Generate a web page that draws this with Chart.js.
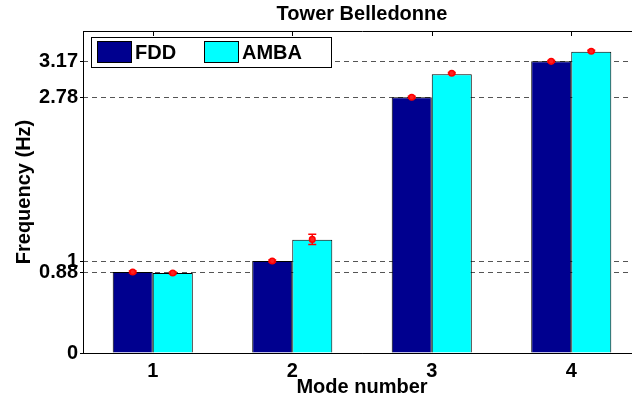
<!DOCTYPE html>
<html>
<head>
<meta charset="utf-8">
<script src="https://cdn.jsdelivr.net/npm/chart.js@4"></script>
<style>
	html, body { margin: 0; padding: 0; background: #ffffff; overflow: hidden; }
	#chart { display: block; }
</style>
</head>
<body>
<canvas id="chart" width="645" height="405"></canvas>
<script>
/* data */

var modes = ['1', '2', '3', '4'];
var fddValues = [0.88, 1.00, 2.78, 3.17];
var ambaValues = [0.87, 1.23, 3.03, 3.275];
var fddMeans = [0.88, 1.00, 2.78, 3.17];
var ambaMeans = [0.87, 1.235, 3.04, 3.28];
var fddErrors = [0.01, 0.01, 0.01, 0.01];
var ambaErrors = [0.01, 0.057, 0.01, 0.01];
var yTicks = [0, 0.88, 1, 2.78, 3.17];
var refLines = [0.88, 1, 2.78, 3.17];

var font = { family: '"Liberation Sans", Arial, Helvetica, sans-serif', size: 20, weight: 'bold' };
var fontString = 'bold 20px "Liberation Sans", Arial, Helvetica, sans-serif';

/* plugin: dashed reference lines, markers, box and legend */

var matlabPlugin = {
	id: 'matlab',
	beforeDatasetsDraw: function(chart) {
		var ctx = chart.ctx;
		var area = chart.chartArea;
		var y = chart.scales.y;
		ctx.save();
		ctx.strokeStyle = '#555555';
		ctx.lineWidth = 1;
		ctx.setLineDash([5, 4]);
		for (var i = 0; i < refLines.length; i++) {
			var py = Math.round(y.getPixelForValue(refLines[i])) + 0.5;
			ctx.beginPath();
			ctx.moveTo(area.left, py);
			ctx.lineTo(area.right, py);
			ctx.stroke();
		}
		ctx.restore();
	},
	afterDatasetsDraw: function(chart) {
		var ctx = chart.ctx;
		var area = chart.chartArea;
		var x = chart.scales.x;
		var y = chart.scales.y;
		var means = [fddMeans, ambaMeans];
		var errors = [fddErrors, ambaErrors];
		ctx.save();

		// error bars and markers
		for (var d = 0; d < means.length; d++) {
			var meta = chart.getDatasetMeta(d);
			for (var j = 0; j < means[d].length; j++) {
				var px = meta.data[j].x;
				var py = y.getPixelForValue(means[d][j]);
				var top = y.getPixelForValue(means[d][j] + errors[d][j]);
				var bottom = y.getPixelForValue(means[d][j] - errors[d][j]);
				ctx.strokeStyle = '#ff0000';
				ctx.lineWidth = 1.5;
				ctx.beginPath();
				ctx.moveTo(px, top);
				ctx.lineTo(px, bottom);
				ctx.moveTo(px - 4, top);
				ctx.lineTo(px + 4, top);
				ctx.moveTo(px - 4, bottom);
				ctx.lineTo(px + 4, bottom);
				ctx.stroke();
				ctx.beginPath();
				ctx.arc(px, py, 2.8, 0, Math.PI * 2);
				ctx.fillStyle = '#ff2020';
				ctx.fill();
				ctx.stroke();
			}
		}

		// axes box
		ctx.strokeStyle = '#000000';
		ctx.lineWidth = 1;
		ctx.beginPath();
		ctx.moveTo(area.left + 0.5, area.bottom + 0.5);
		ctx.lineTo(area.left + 0.5, area.top + 0.5);
		ctx.lineTo(area.right + 0.5, area.top + 0.5);
		ctx.lineTo(area.right + 0.5, area.bottom + 0.5);
		ctx.lineTo(area.left + 0.5, area.bottom + 0.5);
		ctx.stroke();

		// top ticks
		for (var k = 0; k < modes.length; k++) {
			var tx = Math.round(x.getPixelForValue(k)) + 0.5;
			ctx.beginPath();
			ctx.moveTo(tx, area.top);
			ctx.lineTo(tx, area.top + 5);
			ctx.stroke();
		}

		// legend
		var lx = area.left + 8;
		var ly = area.top + 6;
		ctx.fillStyle = '#ffffff';
		ctx.fillRect(lx, ly, 240, 30);
		ctx.strokeRect(lx + 0.5, ly + 0.5, 240, 30);
		ctx.font = fontString;
		ctx.textBaseline = 'middle';
		ctx.textAlign = 'left';
		var offsets = [6, 113];
		for (var n = 0; n < chart.data.datasets.length; n++) {
			var ds = chart.data.datasets[n];
			var sx = lx + offsets[n];
			ctx.fillStyle = ds.backgroundColor;
			ctx.fillRect(sx, ly + 4, 34, 21);
			ctx.strokeStyle = '#000000';
			ctx.strokeRect(sx + 0.5, ly + 4.5, 34, 21);
			ctx.fillStyle = '#000000';
			ctx.fillText(ds.label, sx + 38, ly + 16);
		}
		ctx.restore();
	}
};

/* chart */

var doInit = function() {
	var context = document.getElementById('chart').getContext('2d');
	var payload = {
		type: 'bar',
		data: {
			labels: modes,
			datasets: [
				{ label: 'FDD', data: fddValues, backgroundColor: '#00008f', borderColor: '#000000', borderWidth: 1, categoryPercentage: 0.574, barPercentage: 1 },
				{ label: 'AMBA', data: ambaValues, backgroundColor: '#00ffff', borderColor: '#000000', borderWidth: 1, categoryPercentage: 0.574, barPercentage: 1 }
			]
		},
		options: {
			responsive: false,
			animation: false,
			devicePixelRatio: 1,
			layout: { padding: { right: 4 } },
			plugins: {
				legend: { display: false },
				tooltip: { enabled: false },
				title: { display: true, fullSize: false, text: 'Tower Belledonne', color: '#000000', font: font, padding: { top: 2.5, bottom: 4.5 } }
			},
			scales: {
				x: {
					afterFit: function(scale) { scale.height = 52; },
					ticks: { color: '#000000', font: font, padding: 6 },
					grid: { drawOnChartArea: false, drawTicks: false },
					border: { color: '#000000' },
					title: { display: true, text: 'Mode number', color: '#000000', font: font, padding: { top: 0, bottom: 6 } }
				},
				y: {
					min: 0,
					max: 3.5,
					afterBuildTicks: function(scale) {
						scale.ticks = yTicks.map(function(v) { return { value: v }; });
					},
					afterFit: function(scale) { scale.width = 83; },
					ticks: { autoSkip: false, color: '#000000', font: font, padding: 2, callback: function(value) { return String(value); } },
					grid: { drawOnChartArea: false, tickLength: 3, color: '#000000' },
					border: { color: '#000000' },
					title: { display: true, text: 'Frequency (Hz)', color: '#000000', font: font, padding: { top: 12 } }
				}
			}
		},
		plugins: [matlabPlugin]
	};
	new Chart(context, payload);
};

document.addEventListener('DOMContentLoaded', doInit);
</script>
</body>
</html>
